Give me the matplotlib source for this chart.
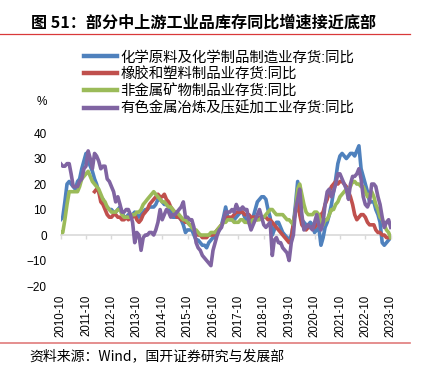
import numpy as np
import pandas as pd
import matplotlib
matplotlib.use('Agg')
import matplotlib.pyplot as plt
import matplotlib.dates as mdates
from matplotlib.lines import Line2D

plt.rcParams['font.family'] = ['Liberation Sans', 'Noto Sans CJK SC', 'DejaVu Sans']

# monthly data, 2010-10 .. 2023-10
months = pd.date_range('2010-10-01', '2023-10-01', freq='MS')
nan = np.nan

chem = [6, 7, 13, 20, 21, 20, 19, 18, 21, 22, 26, 29,
        32, 29, 27, 25, 22, 20, 17, 15, 14, 12, 11, 10,
        10, 9, 9, 10, 11, 9, 7, 7, 8, 7, 8, 9,
        8, 7, 8, 9, 10, 10, 11, 11, 11, 12, 14, 14,
        13, 12, 12, 11, 9, 7, 7, 7, 7, 6, 4, 1,
        2, 2, 2, 0, -2, -2, -3, -4, -4, -5, -3, -2,
        -1, -1, 1, 2, 4, 7, 11, 7, 6, 6, 6, 7,
        8, 9, 9, 7, 5, 5, 6, 7, 10, 13, 14, 15,
        15, 14, 10, 7, 0, 2, 5, 5, 3, 1, 0, -1,
        -2, 0, 4, 12, 21, 14, 6, 5, 4, 4, 5, 4,
        1, 2, 3, -4, -1, 3, 5, 8, 12, 17, 22, 28,
        31, 32, 31, 30, 31, 32, 32, 31, 33, 35, 26, 23,
        20, 17, 13, 13, 13, 10, 8, 5, -3, -4, -3, -2,
        -1]

rubber = [nan] * 12 + [
        nan, nan, nan, nan, 17, 18, 17, 13, 12, 10, 8, 7,
        7, 8, 8, 7, 7, 6, 6, 7, 6, 7, 7, 8,
        6, 5, 6, 8, 9, 10, 12, 13, 14, 15, 16, 15,
        15, 16, 14, 13, 11, 10, 9, 7, 7, 6, 6, 5,
        5, 4, 4, 2, 1, 0, 0, -1, -1, -1, 0, 0,
        0, 1, 2, 3, 4, 5, 6, 7, 7, 7, 8, 9,
        9, 9, 9, 8, 8, 8, 7, 7, 7, 6, 7, 7,
        7, 7, 6, 6, 5, 4, 3, 2, 1, 0, -1, -2,
        -3, -2, 5, 9, 15, 8, 4, 3, 2, 3, 3, 3,
        3, 4, 5, 8, 9, 12, 14, 17, 19, 20, 21, 20,
        21, 21, 20, 19, 17, 15, 12, 8, 6, 7, 8, 8,
        7, 5, 4, 4, 4, 2, 1, 1, 0, 0, -1, -1,
        -1]

nonmetal = [1, 1, 6, 12, 17, 17, 17, 17, 17, 19, 22, 23,
        24, 25, 23, 21, 20, 19, 18, 16, 14, 13, 11, 10,
        9, 9, 9, 10, 10, 8, 7, 7, 7, 7, 8, 8,
        9, 9, 10, 12, 13, 14, 15, 16, 17, 16, 15, 14,
        13, 13, 12, 11, 11, 10, 9, 9, 8, 7, 6, 6,
        5, 4, 3, 2, 2, 1, 0, 0, 0, 0, 0, 1,
        1, 1, 2, 3, 4, 5, 5, 6, 6, 6, 5, 5,
        5, 6, 6, 5, 5, 5, 5, 6, 6, 6, 6, 7,
        7, 8, 9, 10, 10, 9, 8, 8, 8, 8, 7, 6,
        6, 5, 4, 10, 18, 20, 16, 12, 9, 8, 8, 8,
        9, 9, 8, 4, 4, 6, 6, 8, 10, 10, 12, 13,
        15, 16, 17, 18, 18, 19, 21, 21, 20, 20, 19, 19,
        17, 15, 16, 17, 15, 12, 10, 7, 6, 4, 2, 1,
        -1]

nonferrous = [28, 27, 27, 28, 28, 24, 19, 19, 19, 21, 22, 26,
        27, 33, 30, 26, 32, 31, 29, 26, 27, 27, 22, 21,
        19, 17, 13, 15, 12, 9, 9, 10, 10, 8, 5, -3,
        1, 0, -6, -1, 0, 0, 1, 1, 0, 2, 5, 10,
        6, 8, 10, 9, 7, 8, 8, 9, 10, 11, 13, 7,
        7, 6, 6, 3, -3, -5, -6, -8, -9, -10, -11, -12,
        -6, -3, 0, 2, 3, 6, 9, 9, 9, 10, 9, 12,
        10, 10, 11, 10, 10, 5, 2, 4, 6, 8, 10, 7,
        4, 3, 4, 5, -8, -2, -1, -3, -3, -5, -6, -7,
        -10, -3, 0, 10, 14, 18, 8, 2, 3, 4, 3, 2,
        5, 8, 4, 2, 5, 12, 17, 18, 15, 17, 20, 24,
        24, 22, 20, 18, 14, 20, 23, 23, 24, 26, 22, 15,
        12, 11, 13, 20, 20, 19, 15, 12, 7, 3, 5, 6,
        3]

labels = ['化学原料及化学制品制造业存货:同比',
          '橡胶和塑料制品业存货:同比',
          '非金属矿物制品业存货:同比',
          '有色金属冶炼及压延加工业存货:同比']
colors = ['#4F81BD', '#C0504D', '#9BBB59', '#8064A2']

fig = plt.figure(figsize=(4.21, 3.71), dpi=100)
ax = fig.add_axes([0.144, 0.229, 0.784, 0.4124])

for s, lab, c in zip([chem, rubber, nonmetal, nonferrous], labels, colors):
    ax.plot(months, s, color=c, lw=2.6, label=lab)

ax.set_ylim(-20, 40)
ax.set_yticks(range(-20, 41, 10))
ax.set_xlim(months[0], months[-1])
ax.xaxis.set_major_locator(mdates.MonthLocator(bymonth=10))
ax.xaxis.set_major_formatter(mdates.DateFormatter('%Y-%m'))

for sp in ['top', 'right', 'left']:
    ax.spines[sp].set_visible(False)
ax.spines['bottom'].set_position(('data', 0))
ax.spines['bottom'].set_color('#d9d9d9')
ax.spines['bottom'].set_linewidth(1.2)
ax.spines['bottom'].set_zorder(0)
ax.tick_params(axis='y', length=0, pad=10, labelsize=8.5)
ax.tick_params(axis='x', direction='out', length=3, color='#d9d9d9', width=1,
               pad=40, labelsize=8.3, labelrotation=90)

leg = fig.legend(loc='upper left', bbox_to_anchor=(0.2, 0.864), frameon=False,
                 fontsize=10.4, handlelength=2.3, handletextpad=0.2,
                 labelspacing=0.2, borderaxespad=0, borderpad=0)
for h in leg.get_lines():
    h.set_linewidth(3.2)

fig.text(0.074, 0.938, '图 51：部分中上游工业品库存同比增速接近底部',
         fontsize=11.6, fontweight='bold', va='center', ha='left',
         family=['Noto Sans CJK SC', 'DejaVu Sans'])
fig.text(0.086, 0.725, '%', fontsize=8.5, va='center', ha='left')
fig.text(0.07, 0.04, '资料来源：Wind，国开证券研究与发展部', fontsize=10,
         va='center', ha='left', family=['Noto Sans CJK SC', 'DejaVu Sans'])

fig.add_artist(Line2D([0.0, 0.975], [0.908, 0.908], color='#d9383a', lw=0.9,
                      transform=fig.transFigure))
fig.add_artist(Line2D([0.0, 0.975], [0.075, 0.075], color='#e07b7b', lw=1.2,
                      transform=fig.transFigure))

fig.savefig('out.png', dpi=100)
